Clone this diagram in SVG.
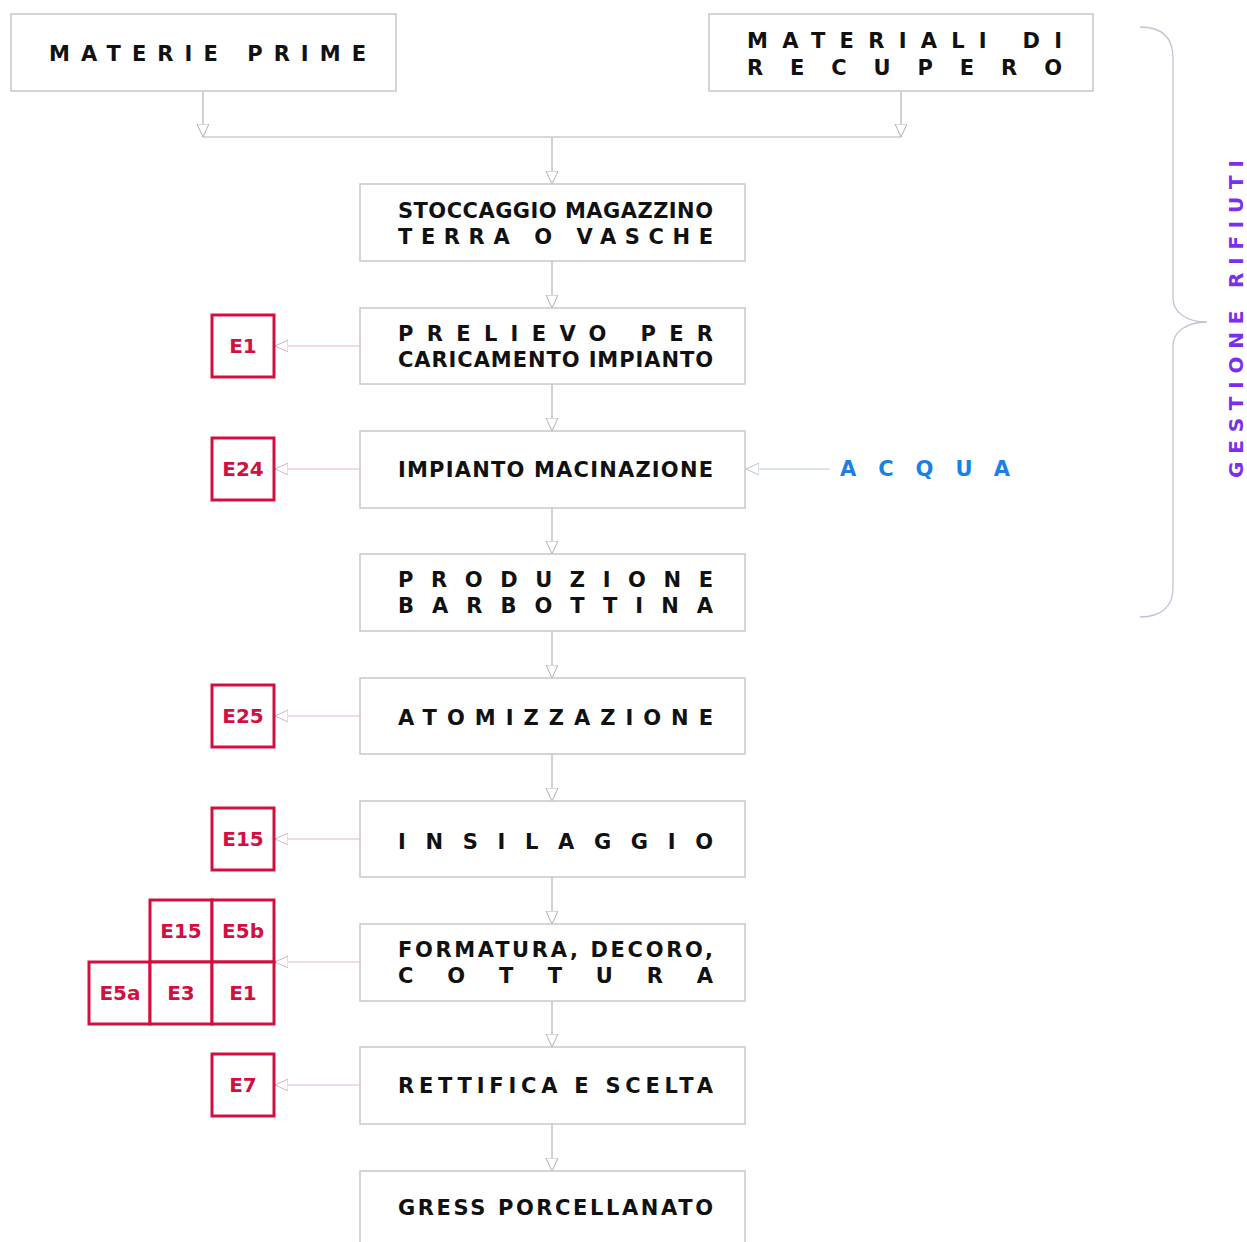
<svg xmlns="http://www.w3.org/2000/svg" width="1247" height="1242" viewBox="0 0 1247 1242">
<style>
.box{fill:#fff;stroke:#c8c8c8;stroke-width:1.5}
.t{font-family:"DejaVu Sans","Liberation Sans",sans-serif;font-weight:bold;font-size:21px;fill:#111}
.red{fill:#fff;stroke:#d2103f;stroke-width:3}
.rt{font-family:"DejaVu Sans","Liberation Sans",sans-serif;font-weight:bold;font-size:20px;fill:#d2103f;text-anchor:middle}
.c{fill:none;stroke:#b4b4b4;stroke-width:1.2}
.cr{fill:none;stroke:#e6b9c6;stroke-width:1.2}
.cb{fill:none;stroke:#b9cde6;stroke-width:1.2}
</style>
<defs>
<marker id="ah" markerUnits="userSpaceOnUse" markerWidth="16" markerHeight="14" refX="13" refY="6" orient="auto"><path d="M0,0 L13,6 L0,12 z" fill="#fff" stroke="#b0b0b0" stroke-width="1"/></marker>
<marker id="ahr" markerUnits="userSpaceOnUse" markerWidth="16" markerHeight="14" refX="13" refY="6" orient="auto"><path d="M0,0 L13,6 L0,12 z" fill="#fff" stroke="#d9b3bd" stroke-width="1"/></marker>
<marker id="ahb" markerUnits="userSpaceOnUse" markerWidth="16" markerHeight="14" refX="13" refY="6" orient="auto"><path d="M0,0 L13,6 L0,12 z" fill="#fff" stroke="#b3c6dc" stroke-width="1"/></marker>
</defs>
<rect width="1247" height="1242" fill="#fff"/>

<g id="connectors">
<line class="c" x1="203" y1="91" x2="203" y2="137" marker-end="url(#ah)"/>
<line class="c" x1="901" y1="91" x2="901" y2="137" marker-end="url(#ah)"/>
<line class="c" x1="203" y1="137" x2="901" y2="137"/>
<line class="c" x1="552" y1="137" x2="552" y2="184" marker-end="url(#ah)"/>
<line class="c" x1="552" y1="261" x2="552" y2="308" marker-end="url(#ah)"/>
<line class="c" x1="552" y1="384" x2="552" y2="431" marker-end="url(#ah)"/>
<line class="c" x1="552" y1="508" x2="552" y2="554" marker-end="url(#ah)"/>
<line class="c" x1="552" y1="631" x2="552" y2="678" marker-end="url(#ah)"/>
<line class="c" x1="552" y1="754" x2="552" y2="801" marker-end="url(#ah)"/>
<line class="c" x1="552" y1="877" x2="552" y2="924" marker-end="url(#ah)"/>
<line class="c" x1="552" y1="1001" x2="552" y2="1047" marker-end="url(#ah)"/>
<line class="c" x1="552" y1="1124" x2="552" y2="1171" marker-end="url(#ah)"/>
<line class="cr" x1="360" y1="346" x2="275" y2="346" marker-end="url(#ahr)"/>
<line class="cr" x1="360" y1="469" x2="275" y2="469" marker-end="url(#ahr)"/>
<line class="cr" x1="360" y1="716" x2="275" y2="716" marker-end="url(#ahr)"/>
<line class="cr" x1="360" y1="839" x2="275" y2="839" marker-end="url(#ahr)"/>
<line class="cr" x1="360" y1="962" x2="275" y2="962" marker-end="url(#ahr)"/>
<line class="cr" x1="360" y1="1085" x2="275" y2="1085" marker-end="url(#ahr)"/>
<line class="cb" x1="830" y1="469" x2="746" y2="469" marker-end="url(#ahb)"/>
</g>

<g id="materie-prime"><rect class="box" x="11" y="14" width="385" height="77"/>
<text class="t" x="49" y="61" textLength="317" lengthAdjust="spacing">MATERIE PRIME</text></g>
<g id="materiali-recupero"><rect class="box" x="709" y="14" width="384" height="77"/>
<text class="t" x="747" y="48" textLength="315" lengthAdjust="spacing">MATERIALI DI</text>
<text class="t" x="747" y="75" textLength="315" lengthAdjust="spacing">RECUPERO</text></g>

<g id="stoccaggio"><rect class="box" x="360" y="184" width="385" height="77"/>
<text class="t" x="398" y="218" textLength="315" lengthAdjust="spacing">STOCCAGGIO MAGAZZINO</text>
<text class="t" x="398" y="244" textLength="315" lengthAdjust="spacing">TERRA O VASCHE</text></g>
<g id="prelievo"><rect class="box" x="360" y="308" width="385" height="76"/>
<text class="t" x="398" y="341" textLength="315" lengthAdjust="spacing">PRELIEVO PER</text>
<text class="t" x="398" y="367" textLength="315" lengthAdjust="spacing">CARICAMENTO IMPIANTO</text></g>
<g id="macinazione"><rect class="box" x="360" y="431" width="385" height="77"/>
<text class="t" x="398" y="477" textLength="315" lengthAdjust="spacing">IMPIANTO MACINAZIONE</text></g>
<g id="barbottina"><rect class="box" x="360" y="554" width="385" height="77"/>
<text class="t" x="398" y="587" textLength="315" lengthAdjust="spacing">PRODUZIONE</text>
<text class="t" x="398" y="613" textLength="315" lengthAdjust="spacing">BARBOTTINA</text></g>
<g id="atomizzazione"><rect class="box" x="360" y="678" width="385" height="76"/>
<text class="t" x="398" y="725" textLength="315" lengthAdjust="spacing">ATOMIZZAZIONE</text></g>
<g id="insilaggio"><rect class="box" x="360" y="801" width="385" height="76"/>
<text class="t" x="398" y="849" textLength="315" lengthAdjust="spacing">INSILAGGIO</text></g>
<g id="formatura"><rect class="box" x="360" y="924" width="385" height="77"/>
<text class="t" x="398" y="957" textLength="315" lengthAdjust="spacing">FORMATURA, DECORO,</text>
<text class="t" x="398" y="983" textLength="315" lengthAdjust="spacing">COTTURA</text></g>
<g id="rettifica"><rect class="box" x="360" y="1047" width="385" height="77"/>
<text class="t" x="398" y="1093" textLength="315" lengthAdjust="spacing">RETTIFICA E SCELTA</text></g>
<g id="gress"><rect class="box" x="360" y="1171" width="385" height="90"/>
<text class="t" x="398" y="1215" textLength="315" lengthAdjust="spacing">GRESS PORCELLANATO</text></g>

<g id="e1a"><rect class="red" x="212" y="315" width="62" height="62"/><text class="rt" x="243" y="353">E1</text></g>
<g id="e24"><rect class="red" x="212" y="438" width="62" height="62"/><text class="rt" x="243" y="476">E24</text></g>
<g id="e25"><rect class="red" x="212" y="685" width="62" height="62"/><text class="rt" x="243" y="723">E25</text></g>
<g id="e15a"><rect class="red" x="212" y="808" width="62" height="62"/><text class="rt" x="243" y="846">E15</text></g>
<g id="e15b"><rect class="red" x="150" y="900" width="62" height="62"/><text class="rt" x="181" y="938">E15</text></g>
<g id="e5b"><rect class="red" x="212" y="900" width="62" height="62"/><text class="rt" x="243" y="938">E5b</text></g>
<g id="e5a"><rect class="red" x="89" y="962" width="61" height="62"/><text class="rt" x="120" y="1000">E5a</text></g>
<g id="e3"><rect class="red" x="150" y="962" width="62" height="62"/><text class="rt" x="181" y="1000">E3</text></g>
<g id="e1b"><rect class="red" x="212" y="962" width="62" height="62"/><text class="rt" x="243" y="1000">E1</text></g>
<g id="e7"><rect class="red" x="212" y="1054" width="62" height="62"/><text class="rt" x="243" y="1092">E7</text></g>

<g id="acqua"><text x="840" y="476" textLength="170" lengthAdjust="spacing" style="font-family:'DejaVu Sans','Liberation Sans',sans-serif;font-weight:bold;font-size:21px;fill:#1a7fe6">ACQUA</text></g>

<g id="gestione-rifiuti">
<path d="M1140,27 C1162,27 1173,38 1173,58 L1173,298 C1173,312 1186,322 1207,322 C1186,322 1173,332 1173,346 L1173,588 C1173,606 1162,617 1140,617" fill="none" stroke="#c9bfd6" stroke-width="1.3"/>
<text transform="translate(1243,478) rotate(-90)" x="0" y="0" textLength="318" lengthAdjust="spacing" style="font-family:'DejaVu Sans','Liberation Sans',sans-serif;font-weight:bold;font-size:20px;fill:#7a2ff0">GESTIONE RIFIUTI</text>
</g>
</svg>
